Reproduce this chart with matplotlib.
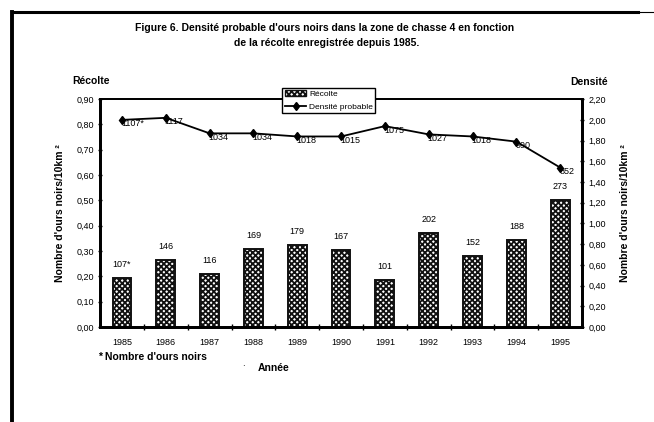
import numpy as np
import matplotlib
matplotlib.use('Agg')
import matplotlib.pyplot as plt
from matplotlib.ticker import FuncFormatter, MultipleLocator, FixedLocator
from matplotlib.lines import Line2D

plt.rcParams['font.family'] = ['Liberation Sans', 'DejaVu Sans']
plt.rcParams['hatch.linewidth'] = 1.3

# data
annees = ['1985', '1986', '1987', '1988', '1989', '1990', '1991', '1992', '1993', '1994', '1995']
recolte = [0.195, 0.265, 0.21, 0.31, 0.325, 0.305, 0.185, 0.37, 0.28, 0.345, 0.50]
recolte_lbl = ['107*', '146', '116', '169', '179', '167', '101', '202', '152', '188', '273']
densite = [2.00, 2.02, 1.87, 1.87, 1.84, 1.84, 1.94, 1.86, 1.84, 1.79, 1.54]
densite_lbl = ['1107*', '1117', '1034', '1034', '1018', '1015', '1075', '1027', '1018', '990', '852']

virgule = FuncFormatter(lambda v, p: ('%.2f' % v).replace('.', ','))

fig = plt.figure(figsize=(6.54, 4.22), dpi=100)
ax = fig.add_axes([0.153, 0.225, 0.737, 0.540])
ax2 = ax.twinx()

x = np.arange(len(annees))
bars = ax.bar(x, recolte, width=0.43, facecolor='white', edgecolor='#111111',
              hatch='xxxxxx', linewidth=1.4, zorder=2)
for xi, v, s in zip(x, recolte, recolte_lbl):
    ax.annotate(s, (xi, v), xytext=(0, 9), textcoords='offset pixels',
                ha='center', va='bottom', fontsize=6.5)

ax.set_xlim(-0.5, len(annees) - 0.5)
ax.set_ylim(0, 0.90)
ax.yaxis.set_major_locator(MultipleLocator(0.10))
ax.yaxis.set_major_formatter(virgule)
ax.set_xticks(x)
ax.set_xticklabels(annees)
ax.xaxis.set_minor_locator(FixedLocator(np.arange(0.5, len(annees) - 1, 1.0)))
ax.tick_params(axis='x', which='major', length=0, labelsize=6.5, pad=8)
ax.tick_params(axis='x', which='minor', length=4, width=1, direction='inout')
ax.tick_params(axis='y', length=3, width=1, direction='inout', labelsize=6.5, pad=3)

ax2.plot(x, densite, color='black', lw=1.3, marker='d', ms=4.5, zorder=3)
for xi, v, s in zip(x, densite, densite_lbl):
    ax2.annotate(s, (xi, v), xytext=(-1, -4), textcoords='offset pixels',
                 ha='left', va='center', fontsize=6.5)
ax2.set_ylim(0, 2.20)
ax2.yaxis.set_major_locator(MultipleLocator(0.20))
ax2.yaxis.set_major_formatter(virgule)
ax2.tick_params(axis='y', length=3, width=1, direction='inout', labelsize=6.5, pad=3)

for a in (ax, ax2):
    a.spines['left'].set_linewidth(2)
    a.spines['bottom'].set_linewidth(2)
    a.spines['right'].set_linewidth(2)
    a.spines['top'].set_linewidth(1.3)

ax.set_ylabel("Nombre d'ours noirs/10km ²", fontsize=7.5, fontweight='bold', labelpad=8)
ax2.set_ylabel("Nombre d'ours noirs/10km ²", fontsize=7.5, fontweight='bold', labelpad=10)

handles = [plt.Rectangle((0, 0), 1, 1, facecolor='white', edgecolor='#111111', hatch='xxxxxx'),
           Line2D([], [], color='black', lw=1.3, marker='d', ms=4.5)]
leg = ax2.legend(handles, ['Récolte', 'Densité probable'], loc='upper left',
                 bbox_to_anchor=(0.378, 1.05), fontsize=6, frameon=True, fancybox=False,
                 framealpha=1, edgecolor='black', borderpad=0.3, labelspacing=0.6,
                 handlelength=2.6, handletextpad=0.3, borderaxespad=0)
leg.get_frame().set_linewidth(1)

fig.text(0.497, 0.933, "Figure 6. Densité probable d'ours noirs dans la zone de chasse 4 en fonction",
         ha='center', va='center', fontsize=7.5, fontweight='bold')
fig.text(0.500, 0.897, "de la récolte enregistrée depuis 1985.",
         ha='center', va='center', fontsize=7.5, fontweight='bold')
fig.text(0.110, 0.808, 'Récolte', ha='left', va='center', fontsize=7.5, fontweight='bold')
fig.text(0.930, 0.806, 'Densité', ha='right', va='center', fontsize=7.5, fontweight='bold')
fig.text(0.150, 0.155, "* Nombre d'ours noirs", ha='left', va='center', fontsize=7.5, fontweight='bold')
fig.text(0.372, 0.128, '.', ha='center', va='bottom', fontsize=7)
fig.text(0.418, 0.128, 'Année', ha='center', va='center', fontsize=7.5, fontweight='bold')

# scanned page border
fig.add_artist(Line2D([0.018, 0.975], [0.972, 0.972], color='black', lw=2.2, transform=fig.transFigure))
fig.add_artist(Line2D([0.975, 1.0], [0.972, 0.972], color='black', lw=0.8, transform=fig.transFigure))
fig.add_artist(Line2D([0.018, 0.018], [0.972, 0.0], color='black', lw=2.8, transform=fig.transFigure))

fig.savefig('out.png', dpi=100)
